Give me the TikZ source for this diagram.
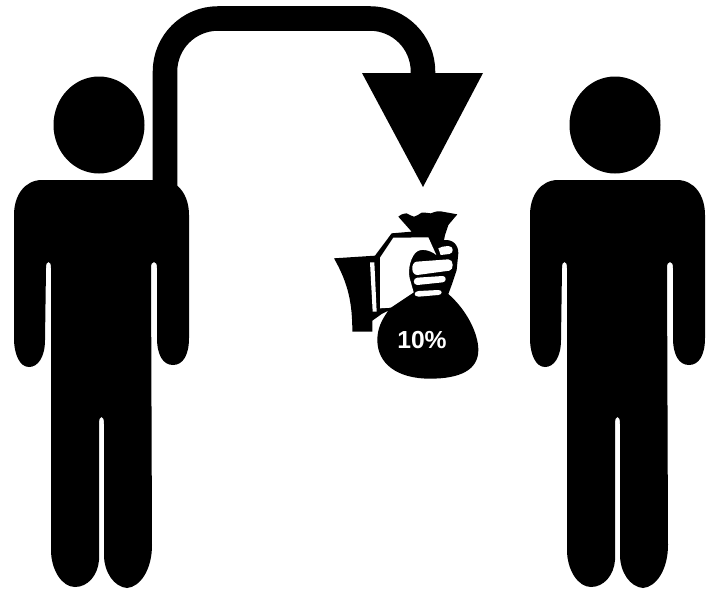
\documentclass[tikz,border=0pt]{standalone}
\usepackage{fontspec}
\setmainfont{Liberation Sans}
\tikzset{
  ink/.style={fill=black,draw=none},
  paper/.style={fill=white,draw=none},
  stem/.style={draw=black,line width=18.4pt,line cap=butt},
  pct/.style={text=white,font=\fontsize{18.5}{20}\selectfont\bfseries,inner sep=0pt}
}
\newcommand{\personshape}{%
  \fill[ink] (99,125) ellipse [x radius=45.5,y radius=48.5];
  \fill[ink] (42,180) -- (161,180)
    .. controls (178,180) and (189,195) .. (189,215)
    -- (189,338) .. controls (189,355) and (183,365) .. (173,365)
    .. controls (163,365) and (157,355) .. (157,338)
    -- (157,268) .. controls (157,264) and (156,262) .. (154,262)
    .. controls (152,262) and (151,264) .. (151,268)
    -- (152,545) .. controls (152,570) and (140,587) .. (127,588)
    .. controls (114,587) and (104,572) .. (104,555)
    -- (104,424) .. controls (104,419) and (103,417) .. (101.5,417)
    .. controls (100,417) and (99,419) .. (99,424)
    -- (99,560) .. controls (98,575) and (88,587) .. (75,587)
    .. controls (62,587) and (51,570) .. (51,550)
    -- (51,268) .. controls (51,264) and (50,262) .. (48.5,262)
    .. controls (47,262) and (46,264) .. (46,268)
    -- (45,340) .. controls (45,357) and (38,367) .. (29,367)
    .. controls (20,367) and (14,355) .. (14,338)
    -- (14,215) .. controls (14,195) and (25,180) .. (42,180) -- cycle;
}
\begin{document}
\begin{tikzpicture}[x=0.75pt,y=-0.75pt]
\useasboundingbox (0,0) rectangle (708,593);
\personshape
\begin{scope}[xshift=387pt]
\personshape
\end{scope}
% arrow
\coordinate (stemstart) at (165,192);
\coordinate (stemend) at (423,75);
\coordinate (tipleft) at (362,73);
\coordinate (tipright) at (483,73);
\coordinate (tip) at (423,187);
\draw[stem] (stemstart) -- (165,71.5) arc[start angle=180,end angle=90,x radius=53,y radius=-53] -- (370,18.5) arc[start angle=90,end angle=0,x radius=53,y radius=-53] -- (stemend);
\fill[ink] (tipleft) -- (tipright) -- (tip) -- cycle;
% money bag
\begin{scope}[shift={(320,190)},x=0.25pt,y=-0.25pt]
\fill[ink] (42,205) -- (165,197) -- (215,130) -- (275,125) -- (235,80)
  .. controls (245,72) and (252,70) .. (260,70)
  .. controls (268,72) and (274,80) .. (282,80)
  .. controls (290,80) and (295,72) .. (305,68)
  .. controls (315,64) and (322,72) .. (332,70)
  .. controls (340,68) and (350,62) .. (362,64)
  -- (412,73) -- (385,105) -- (375,135) -- (372,150)
  .. controls (400,148) and (415,165) .. (415,190)
  -- (410,240) -- (395,285) -- (385,312)
  .. controls (440,360) and (475,430) .. (475,480)
  .. controls (475,540) and (420,566) .. (330,566)
  .. controls (230,566) and (172,520) .. (172,450)
  .. controls (172,415) and (185,390) .. (205,362)
  -- (185,372) -- (157,392) -- (157,425) -- (97,425)
  .. controls (97,340) and (85,280) .. (42,205) -- cycle;
\fill[paper] (180,203) -- (220,143) -- (325,142) -- (349,195)
  .. controls (330,180) and (300,172) .. (285,190)
  .. controls (268,210) and (262,250) .. (272,275)
  -- (281,307) -- (212,353) -- (180,355) -- cycle;
\fill[paper] (150,217) -- (163,217) -- (170,365) -- (158,365) -- cycle;
\fill[paper] (290,215) -- (385,208) .. controls (402,208) and (402,240) .. (388,242)
  -- (292,255) .. controls (272,255) and (272,217) .. (290,215) -- cycle;
\fill[paper] (292,263) -- (368,258) .. controls (380,258) and (380,276) .. (368,277)
  -- (292,285) .. controls (278,285) and (278,264) .. (292,263) -- cycle;
\fill[paper] (296,303) -- (355,300) .. controls (368,300) and (368,314) .. (355,315)
  -- (296,320) .. controls (280,320) and (280,304) .. (296,303) -- cycle;
\fill[paper] (368,170) -- (385,168) .. controls (402,168) and (402,190) .. (388,192)
  -- (362,195) -- (355,175) -- cycle;
\node[pct] (label) at (306,450) {10\%};
\end{scope}
\end{tikzpicture}
\end{document}
